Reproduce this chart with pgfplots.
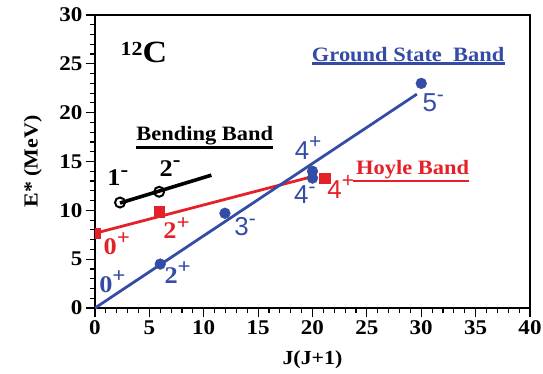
\documentclass[border=0pt]{standalone}
\usepackage{fontspec}
\setmainfont{Liberation Serif}[FakeStretch=1.1]
\newfontfamily\sansf{Liberation Sans}
\usepackage{pgfplots}
\pgfplotsset{compat=1.18}
\definecolor{gsb}{RGB}{52,76,165}
\definecolor{hoy}{RGB}{228,32,40}
\newcommand{\st}[2]{#1\raisebox{0.4em}{\fontsize{21}{22}\selectfont #2}}
\newcommand{\sfont}{\fontsize{24}{26}\selectfont\bfseries}
\newcommand{\ssfont}{\fontsize{26}{28}\selectfont\sansf}
\begin{document}
\begin{tikzpicture}
\begin{axis}[
 name=ax,
 scale only axis, width=435bp, height=293bp,
 xmin=0,xmax=40,ymin=0,ymax=30,
 xtick={0,5,...,40}, ytick={0,5,...,30},
 minor x tick num=4, minor y tick num=4,
 tick pos=left, tick align=outside,
 major tick length=9bp, minor tick length=5bp,
 every tick/.style={line width=1.2pt, black},
 axis line style={line width=2.2pt},
 ticklabel style={font=\fontsize{21}{23}\selectfont\bfseries},
 /pgf/number format/assume math mode=true,
 xlabel={J(J+1)}, ylabel={E* (MeV)},
 label style={font=\fontsize{20}{22}\selectfont\bfseries},
 xlabel style={at={(axis description cs:0.5,-0.178)}, anchor=center},
 ylabel style={at={(axis description cs:-0.143,0.5)}, anchor=center},
 clip marker paths=true,
]
% Bending band
\addplot[black, line width=3.6pt] coordinates {(2.3,10.75) (10.7,13.6)};
\addplot[black, only marks, mark=o, mark size=5bp, mark options={line width=2pt, fill=white}] coordinates {(2.3,10.8) (5.9,11.9)};
% Hoyle band
\addplot[hoy, line width=2.8pt] coordinates {(0,7.65) (19.8,13.4)};
\addplot[hoy, only marks, mark=square*, mark size=5.4bp] coordinates {(0,7.65) (5.9,9.9) (21.1,13.3)};
% Ground state band
\addplot[gsb, line width=2.8pt] coordinates {(0,0) (29.6,21.9)};
\addplot[gsb, only marks, mark=*, mark size=5.4bp] coordinates {(6,4.5) (11.95,9.7) (20,14.0) (20,13.3) (30,23.0)};

% labels
\node[black, font=\sfont] at (axis cs:2.1,13.3) {\st{1}{-}};
\node[black, font=\sfont] at (axis cs:6.9,14.3) {\st{2}{-}};
\node[hoy, font=\sfont] at (axis cs:2.0,6.6) {\st{0}{+}};
\node[hoy, font=\sfont] at (axis cs:7.5,8.2) {\st{2}{+}};
\node[hoy, font=\ssfont] at (axis cs:22.6,12.4) {\st{4}{+}};
\node[gsb, font=\sfont] at (axis cs:1.6,2.7) {\st{0}{+}};
\node[gsb, font=\sfont] at (axis cs:7.6,3.6) {\st{2}{+}};
\node[gsb, font=\ssfont] at (axis cs:13.8,8.3) {\st{3}{-}};
\node[gsb, font=\ssfont] at (axis cs:19.6,16.4) {\st{4}{+}};
\node[gsb, font=\ssfont] at (axis cs:19.3,11.6) {\st{4}{-}};
\node[gsb, font=\ssfont] at (axis cs:31.1,21.0) {\st{5}{-}};

\node[black, font=\bfseries] at (axis cs:4.5,26.2) {\raisebox{7pt}{\fontsize{20}{21}\selectfont 12}\fontsize{31}{32}\selectfont C};

\node[black, inner sep=0pt, font=\fontsize{20.5}{22}\selectfont\bfseries] (bb) at (axis cs:10.1,17.6) {Bending Band};
\draw[black, line width=2.6pt] ([yshift=-2bp]bb.south west) -- ([yshift=-2bp]bb.south east);
\node[gsb, inner sep=0pt, font=\fontsize{20.5}{22}\selectfont\bfseries] (gs) at (axis cs:28.8,26.0) {Ground State\ \ Band};
\draw[gsb, line width=2.2pt] ([yshift=-2bp]gs.south west) -- ([yshift=-2bp]gs.south east);
\node[hoy, inner sep=0pt, font=\fontsize{20.5}{22}\selectfont\bfseries] (hb) at (axis cs:29.2,14.2) {Hoyle Band};
\draw[hoy, line width=2.2pt] ([xshift=-3bp,yshift=-2bp]hb.south west) -- ([yshift=-2bp]hb.south east);
\end{axis}
\pgfresetboundingbox
\path ([xshift=-95bp,yshift=-66bp]ax.south west) rectangle ([xshift=13bp,yshift=15bp]ax.north east);
\end{tikzpicture}
\end{document}
